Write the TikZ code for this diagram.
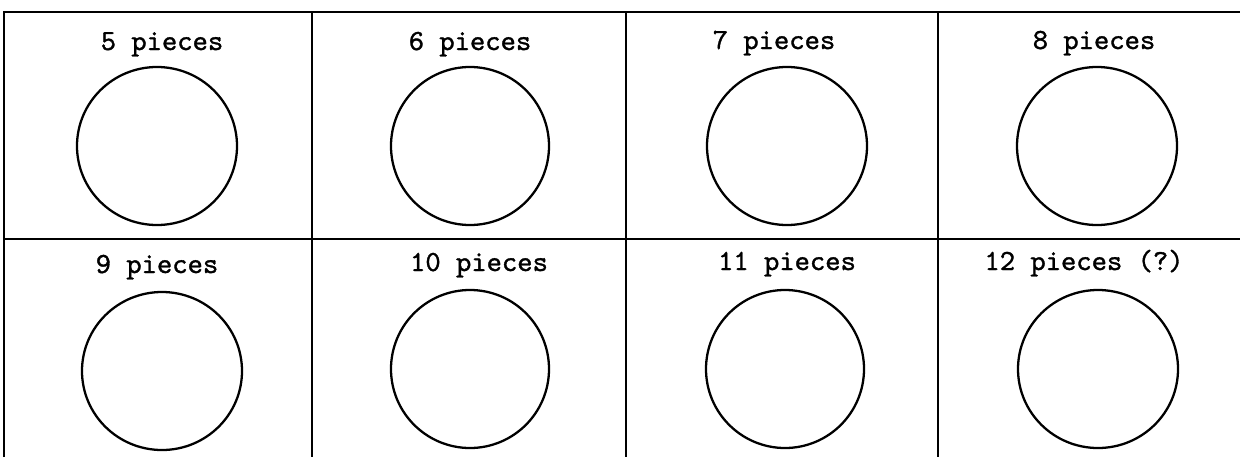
\documentclass[tikz,border=0pt]{standalone}
\usepackage{fontspec}
\usepackage{tikz}
\usetikzlibrary{positioning,calc}
\newfontfamily\piecefont{lmmono10-regular.otf}[FakeBold=1.2]

\begin{document}
\begin{tikzpicture}[x=0.02cm, y=-0.02cm,
    grid line/.style={line width=1.4pt},
    piece disc/.style={line width=1.3pt},
    piece label/.style={anchor=base, inner sep=0pt,
        font=\piecefont\fontsize{16.6}{20}\selectfont}]
    \useasboundingbox (0,0) rectangle (1240,457);
    % 表格线
    \draw[grid line] (4,457) -- (4,12) -- (1240,12);
    \draw[grid line] (4,239) -- (1240,239);
    \foreach \gx in {312,626,938} {
        \draw[grid line] (\gx,12) -- (\gx,457);
    }
    % 标题
    \foreach \n/\lx/\ly/\txt in {5/162/50/5 pieces, 6/470/50/6 pieces,
        7/774/49/7 pieces, 8/1094/49/8 pieces, 9/157/273/9 pieces,
        10/479/271/10 pieces, 11/787/270/11 pieces, 12/1084/270/12 pieces (?)} {
        \node[piece label] (lab\n) at (\lx,\ly) {\txt};
    }
    % 圆
    \foreach \n/\cx/\cy/\rx/\ry in {5/157/146/80/79, 6/470/146/79/79,
        7/787/146/80/79, 8/1097/146/80/79, 9/162/371/80/79,
        10/470/369/79/79, 11/785/369/79/79, 12/1098/369/80/79} {
        \draw[piece disc] (\cx,\cy) ellipse [x radius=\rx, y radius=\ry];
    }
\end{tikzpicture}
\end{document}
